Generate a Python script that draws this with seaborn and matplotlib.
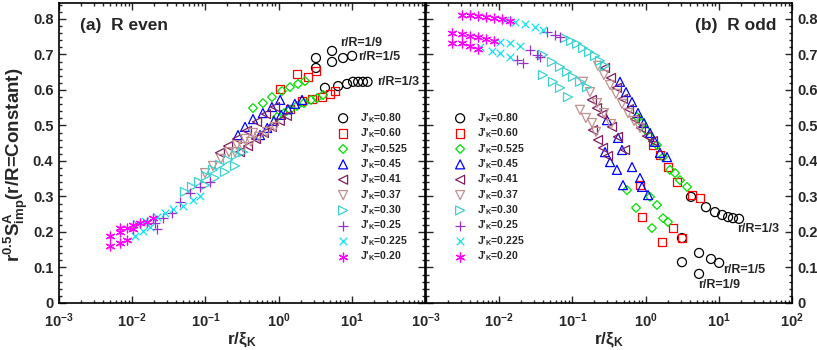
import math
import matplotlib
matplotlib.use("Agg")
import pandas as pd
import matplotlib.pyplot as plt
from matplotlib.ticker import LogLocator, MultipleLocator, FuncFormatter, NullFormatter, FixedLocator
import seaborn as sns

# Style
sns.set_theme(style="ticks")
plt.rcParams['font.family'] = ['Liberation Sans', 'DejaVu Sans']
plt.rcParams['font.weight'] = 'bold'
plt.rcParams['mathtext.fontset'] = 'custom'
plt.rcParams['mathtext.rm'] = 'Liberation Sans:bold'
plt.rcParams['mathtext.bf'] = 'Liberation Sans:bold'
plt.rcParams['mathtext.it'] = 'Liberation Sans:bold'
plt.rcParams['mathtext.default'] = 'bf'

# -----------------------------
# Data
# -----------------------------
j_values = ["0.80", "0.60", "0.525", "0.45", "0.41", "0.37", "0.30", "0.25", "0.225", "0.20"]

# (a) R even
even_x = {
    "0.80": [3.24, 3.24, 5.37, 5.37, 7.59, 10.1, 4.3, 6.5, 8.6, 10.4, 12.2, 14.2, 16.4],
    "0.60": [1.05, 1.78, 2.52, 3.24, 1.43, 2.09, 2.86, 3.92, 5.04, 5.89],
    "0.525": [0.447, 0.61, 0.81, 1.11, 1.43, 1.84, 2.3, 0.95, 1.19, 1.43, 1.78, 2.22, 2.77, 3.35, 4.05],
    "0.45": [0.279, 0.348, 0.447, 0.61, 0.81, 1.05, 0.557, 0.70, 0.865, 1.08, 1.34, 1.67, 2.09],
    "0.41": [0.158, 0.204, 0.27, 0.37, 0.507, 0.673, 0.893, 0.297, 0.382, 0.49, 0.63, 0.81, 1.04, 1.3],
    "0.37": [0.099, 0.127, 0.163, 0.21, 0.27, 0.348, 0.447, 0.254, 0.327, 0.42, 0.54, 0.695, 0.893],
    "0.30": [0.0526, 0.0656, 0.0818, 0.102, 0.127, 0.158, 0.204, 0.262, 0.327, 0.099, 0.135, 0.185, 0.254],
    "0.25": [0.0205, 0.0218, 0.0264, 0.035, 0.045, 0.0616, 0.0844, 0.116],
    "0.225": [0.0109, 0.0141, 0.0175, 0.0116, 0.0149, 0.0218, 0.028, 0.036, 0.049, 0.0677, 0.0844],
    "0.20": [0.00498, 0.00498, 0.0068, 0.0068, 0.0068, 0.0085, 0.0085, 0.0103, 0.0103, 0.0128, 0.0159, 0.0192],
}
even_y = {
    "0.80": [0.690, 0.662, 0.710, 0.679, 0.690, 0.696, 0.606, 0.611, 0.617, 0.623, 0.623, 0.623, 0.623],
    "0.60": [0.603, 0.645, 0.637, 0.654, 0.546, 0.569, 0.575, 0.580, 0.589, 0.597],
    "0.525": [0.549, 0.563, 0.580, 0.597, 0.608, 0.617, 0.625, 0.524, 0.535, 0.544, 0.555, 0.563, 0.572, 0.577, 0.586],
    "0.45": [0.473, 0.496, 0.518, 0.535, 0.552, 0.572, 0.473, 0.493, 0.513, 0.530, 0.546, 0.561, 0.572],
    "0.41": [0.423, 0.442, 0.462, 0.485, 0.510, 0.532, 0.552, 0.425, 0.442, 0.462, 0.479, 0.496, 0.513, 0.527],
    "0.37": [0.366, 0.386, 0.406, 0.425, 0.445, 0.462, 0.479, 0.425, 0.439, 0.454, 0.468, 0.482, 0.496],
    "0.30": [0.313, 0.327, 0.341, 0.358, 0.375, 0.389, 0.403, 0.417, 0.425, 0.332, 0.352, 0.369, 0.386],
    "0.25": [0.225, 0.208, 0.239, 0.254, 0.285, 0.310, 0.327, 0.341],
    "0.225": [0.189, 0.203, 0.214, 0.222, 0.231, 0.242, 0.254, 0.265, 0.273, 0.290, 0.301],
    "0.20": [0.189, 0.161, 0.211, 0.200, 0.169, 0.211, 0.177, 0.220, 0.208, 0.225, 0.228, 0.239],
}

# (b) R odd
odd_x = {
    "0.80": [4.17, 6.68, 8.87, 11.1, 13.4, 15.6, 18.9, 3.14, 5.37, 7.82, 10.1, 3.14, 5.37],
    "0.60": [1.26, 1.57, 2.02, 2.69, 4.3, 5.53, 0.838, 2.37, 3.14, 0.893, 1.67],
    "0.525": [0.763, 0.893, 1.01, 1.15, 1.43, 1.73, 2.15, 2.52, 2.95, 3.68, 1.15, 1.43, 1.73, 2.02, 0.557, 0.74, 1.22],
    "0.45": [0.447, 0.54, 0.652, 0.787, 0.95, 1.15, 1.34, 1.57, 1.96, 0.297, 0.42, 0.476, 0.652, 0.838, 0.893, 1.08,
             0.279, 0.327, 0.406, 0.491],
    "0.41": [0.279, 0.337, 0.406, 0.491, 0.593, 0.716, 0.865, 1.045, 1.26, 0.185, 0.217, 0.254, 0.348, 0.42, 0.524,
             0.191, 0.224, 0.262, 0.307],
    "0.37": [0.224, 0.27, 0.327, 0.394, 0.476, 0.575, 0.695, 0.838, 0.14, 0.174, 0.217, 0.27, 0.337, 0.127, 0.153, 0.185, 0.21],
    "0.30": [0.0793, 0.0957, 0.116, 0.14, 0.169, 0.204, 0.238, 0.279, 0.0396, 0.0526, 0.0677, 0.0844, 0.102, 0.127, 0.158,
             0.0396, 0.0543, 0.0677, 0.0871],
    "0.25": [0.045, 0.0578, 0.0677, 0.0264, 0.0328, 0.036, 0.0175, 0.0211],
    "0.225": [0.012, 0.0164, 0.0225, 0.0308, 0.0396, 0.0103, 0.0141, 0.0192, 0.00547, 0.00798, 0.0103, 0.0141],
    "0.20": [0.0031, 0.00399, 0.00513, 0.0066, 0.0085, 0.0109, 0.0141, 0.00226, 0.0031, 0.00399, 0.00513, 0.0066, 0.0085,
             0.00226, 0.0031, 0.00399, 0.00513],
}
odd_y = {
    "0.80": [0.299, 0.270, 0.256, 0.248, 0.242, 0.239, 0.237, 0.183, 0.141, 0.124, 0.113, 0.115, 0.082],
    "0.60": [0.445, 0.417, 0.383, 0.341, 0.304, 0.296, 0.332, 0.211, 0.183, 0.242, 0.172],
    "0.525": [0.524, 0.507, 0.487, 0.468, 0.445, 0.411, 0.375, 0.366, 0.346, 0.327, 0.299, 0.276, 0.239, 0.228, 0.318, 0.268, 0.211],
    "0.45": [0.623, 0.594, 0.566, 0.535, 0.507, 0.479, 0.454, 0.423, 0.411, 0.515, 0.465, 0.431, 0.383, 0.352, 0.327, 0.304,
             0.425, 0.397, 0.375, 0.332],
    "0.41": [0.662, 0.634, 0.606, 0.575, 0.546, 0.518, 0.493, 0.470, 0.456, 0.572, 0.549, 0.530, 0.496, 0.468, 0.431,
             0.487, 0.459, 0.437, 0.414],
    "0.37": [0.668, 0.642, 0.614, 0.589, 0.561, 0.535, 0.513, 0.493, 0.623, 0.594, 0.563, 0.535, 0.504, 0.544, 0.521, 0.507, 0.482],
    "0.30": [0.746, 0.738, 0.730, 0.718, 0.707, 0.696, 0.682, 0.668, 0.699, 0.679, 0.665, 0.651, 0.637, 0.623, 0.608,
             0.642, 0.623, 0.606, 0.580],
    "0.25": [0.763, 0.755, 0.749, 0.713, 0.699, 0.693, 0.685, 0.676],
    "0.225": [0.797, 0.792, 0.786, 0.777, 0.769, 0.735, 0.732, 0.724, 0.721, 0.710, 0.704, 0.693],
    "0.20": [0.811, 0.811, 0.808, 0.806, 0.803, 0.800, 0.794, 0.761, 0.758, 0.752, 0.749, 0.744, 0.738,
             0.732, 0.732, 0.724, 0.715],
}

# Marker styles per J'_K
markers = ["o", "s", "D", "^", "<", "v", ">", "+", "x", (6, 2, 0)]
sizes = [42, 38, 20, 42, 42, 42, 42, 45, 30, 40]
colors = ["#000000", "#ff0000", "#00e000", "#0000ff", "#7f1f5f",
          "#c09090", "#40d0d0", "#9932cc", "#10e0f0", "#ff00ff"]
open_markers = ["o", "s", "D", "^", "<", "v", ">"]

# -----------------------------
# Figure
# -----------------------------
fig = plt.figure(figsize=(8.17, 3.5), dpi=100)
ax_a = fig.add_axes([59 / 817, 47 / 350, 366 / 817, 300 / 350])
ax_b = fig.add_axes([426 / 817, 47 / 350, 366 / 817, 300 / 350])

for ax, xs, ys in [(ax_a, even_x, even_y), (ax_b, odd_x, odd_y)]:
    for j, m, s, c in zip(j_values, markers, sizes, colors):
        df = pd.DataFrame({"x": xs[j], "y": ys[j]})
        lab = r"J'$_{K}$=" + j
        if m in open_markers:
            sns.scatterplot(data=df, x="x", y="y", ax=ax, marker=m, s=s, facecolors="none",
                            edgecolor=c, linewidth=0.9, label=lab)
        else:
            sns.scatterplot(data=df, x="x", y="y", ax=ax, marker=m, s=s, color=c,
                            linewidth=0.9, label=lab)

    ax.set_xscale("log")
    ax.set_xlim(1e-3, 1e2)
    ax.set_ylim(0, 0.845)
    ax.xaxis.set_major_locator(FixedLocator([1e-3, 1e-2, 1e-1, 1e0, 1e1, 1e2]))
    ax.xaxis.set_minor_locator(LogLocator(base=10, subs=range(2, 10), numticks=20))
    ax.xaxis.set_minor_formatter(NullFormatter())
    ax.yaxis.set_major_locator(MultipleLocator(0.1))
    ax.yaxis.set_minor_locator(MultipleLocator(0.02))
    ax.yaxis.set_major_formatter(FuncFormatter(lambda v, p: "0" if abs(v) < 1e-9 else "%.1f" % v))
    ax.tick_params(which="both", direction="in", top=True, right=True, left=True, bottom=True,
                   width=1.0, labelsize=10.5)
    ax.tick_params(axis="y", pad=4)
    ax.tick_params(axis="x", pad=6)
    ax.tick_params(which="major", length=5)
    ax.tick_params(which="minor", length=2.5)
    for sp in ax.spines.values():
        sp.set_linewidth(1.2)
        sp.set_color("black")
    ax.set_xlabel(r"r/$\xi_{K}$", fontsize=12.5, fontweight="bold", labelpad=0)
    ax.set_ylabel("")

ax_a.xaxis.set_major_formatter(FuncFormatter(
    lambda v, p: "" if v > 50 else r"$10^{%d}$" % round(math.log10(v))))
ax_b.xaxis.set_major_formatter(FuncFormatter(
    lambda v, p: r"$10^{%d}$" % round(math.log10(v))))
ax_b.tick_params(axis="y", labelleft=False, labelright=True)

# Legends
leg_kw = dict(loc="upper left", frameon=False, fontsize=7.5, handlelength=1.0, handletextpad=1.1,
              labelspacing=0.15, borderpad=0, borderaxespad=0)
ax_a.legend(bbox_to_anchor=(0.762, 0.64), **leg_kw)
ax_b.legend(bbox_to_anchor=(0.079, 0.64), **leg_kw)

# Annotations
ax_a.text(0.057, 0.925, "(a)  R even", transform=ax_a.transAxes, fontsize=12.5, fontweight="bold", va="center")
ax_b.text(0.735, 0.925, "(b)  R odd", transform=ax_b.transAxes, fontsize=12.5, fontweight="bold", va="center")
ax_a.text(6.9, 0.732, "r/R=1/9", fontsize=9, fontweight="bold", va="center")
ax_a.text(12.2, 0.693, "r/R=1/5", fontsize=9, fontweight="bold", va="center")
ax_a.text(22.1, 0.623, "r/R=1/3", fontsize=9, fontweight="bold", va="center")
ax_b.text(17.7, 0.208, "r/R=1/3", fontsize=9, fontweight="bold", va="center")
ax_b.text(11.4, 0.093, "r/R=1/5", fontsize=9, fontweight="bold", va="center")
ax_b.text(5.2, 0.051, "r/R=1/9", fontsize=9, fontweight="bold", va="center")

fig.text(16 / 817, 0.53, r"r$^{0.5}$S$^{A}_{imp}$(r/R=Constant)", rotation=90, fontsize=13.5,
         fontweight="bold", ha="center", va="center")

plt.savefig("out.png", dpi=100)
plt.close()
